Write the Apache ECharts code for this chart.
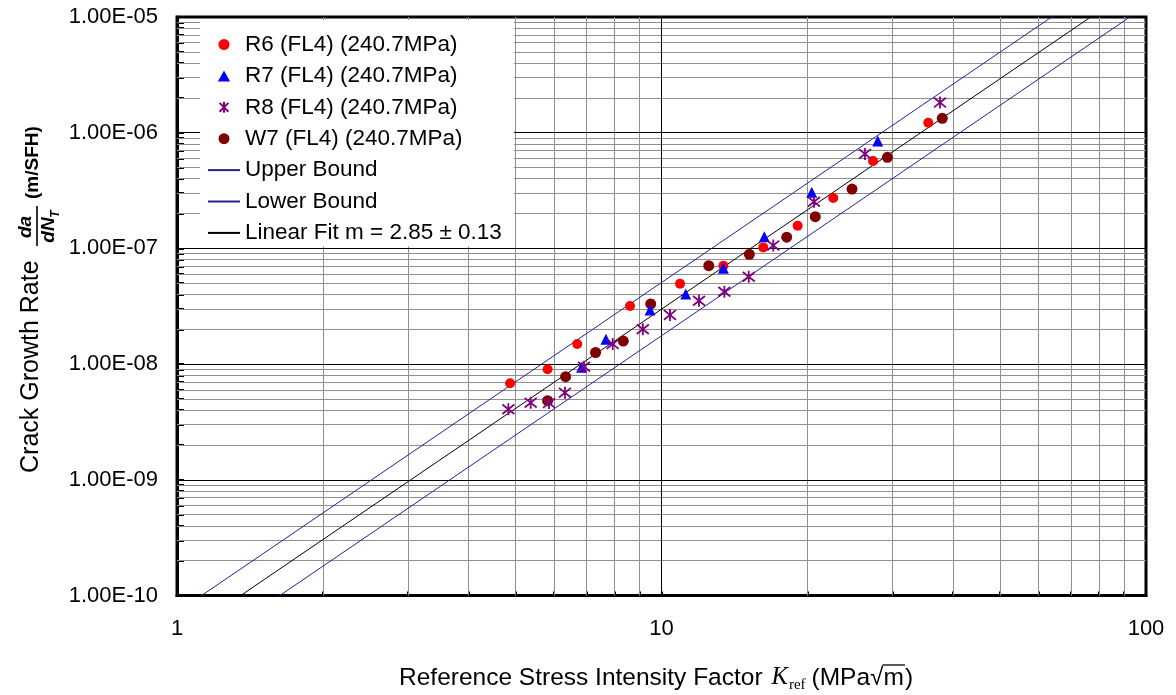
<!DOCTYPE html>
<html>
<head>
<meta charset="utf-8">
<script src="https://cdn.jsdelivr.net/npm/echarts@6/dist/echarts.min.js"></script>
<style>
  html, body { margin: 0; padding: 0; background: #ffffff; }
  #chart { width: 1176px; height: 695px; }
</style>
</head>
<body>
<div id="chart"></div>
<script>
// Reference stress intensity factor K_ref (MPa√m) and crack growth rate da/dN_T (m/SFH)
const r6K    = [4.87, 5.82, 6.70, 8.61, 10.92, 13.42, 16.22, 19.10, 22.62, 27.33, 35.53];
const r6Rate = [6.82e-9, 9.02e-9, 1.49e-8, 3.18e-8, 4.95e-8, 7.09e-8, 1.02e-7, 1.57e-7, 2.73e-7, 5.69e-7, 1.22e-6];

const r7K    = [6.84, 7.68, 9.47, 11.22, 13.42, 16.30, 20.42, 27.95];
const r7Rate = [9.38e-9, 1.64e-8, 2.94e-8, 4.04e-8, 6.73e-8, 1.26e-7, 3.05e-7, 8.48e-7];

const r8K    = [4.83, 5.37, 5.86, 6.32, 6.92, 7.93, 9.15, 10.41, 11.95, 13.48, 15.14, 17.01, 20.64, 26.30, 37.57];
const r8Rate = [4.07e-9, 4.64e-9, 4.60e-9, 5.66e-9, 9.50e-9, 1.49e-8, 2.00e-8, 2.66e-8, 3.53e-8, 4.22e-8, 5.69e-8, 1.06e-7, 2.53e-7, 6.55e-7, 1.82e-6];

const w7K    = [5.82, 6.34, 7.31, 8.34, 9.50, 12.52, 15.18, 18.13, 20.77, 24.73, 29.26, 37.98];
const w7Rate = [4.83e-9, 7.78e-9, 1.26e-8, 1.58e-8, 3.31e-8, 7.09e-8, 8.89e-8, 1.25e-7, 1.88e-7, 3.26e-7, 6.13e-7, 1.33e-6];

const seriesNames = ['R6 (FL4) (240.7MPa)', 'R7 (FL4) (240.7MPa)', 'R8 (FL4) (240.7MPa)', 'W7 (FL4) (240.7MPa)'];

// Power-law fit  da/dN = C * K^m  and its scatter band
const fitSlope = 2.85;
const fitSlopeErr = 0.13;
const fitLogCoef = -10.375;     // log10(C)
const bandLogHalfWidth = 0.23;  // decades above / below the fit
const fitRangeK = [1, 100];

// Axis ticks
const xTickValues = [1, 10, 100];
const yTickValues = [1e-10, 1e-9, 1e-8, 1e-7, 1e-6, 1e-5];
const minorSteps = [2, 3, 4, 5, 6, 7, 8, 9];

const SANS = '"Liberation Sans", Arial, sans-serif';
const SERIF = '"Liberation Serif", "Times New Roman", serif';

const fitName = 'Linear Fit m = ' + fitSlope.toFixed(2) + ' \u00B1 ' + fitSlopeErr.toFixed(2);

function pairs(xs, ys) { return xs.map((x, i) => [x, ys[i]]); }
function powerLine(logOffset) {
  return fitRangeK.map(k => [k, Math.pow(10, fitLogCoef + logOffset) * Math.pow(k, fitSlope)]);
}
function minorValues(decades) {
  const out = [];
  decades.slice(0, -1).forEach(d => minorSteps.forEach(s => out.push(d * s)));
  return out;
}
const xMinor = minorValues(xTickValues);
const yMinor = minorValues(yTickValues);
const xMajorInner = xTickValues.slice(1, -1);
const yMajorInner = yTickValues.slice(1, -1);
const xLo = xTickValues[0], xHi = xTickValues[xTickValues.length - 1];
const yLo = yTickValues[0], yHi = yTickValues[yTickValues.length - 1];

function expLabel(v) {
  const e = Math.round(Math.log10(v));
  return '1.00E' + (e < 0 ? '-' : '+') + String(Math.abs(e)).padStart(2, '0');
}

// text measurement for the composed axis title
const measureCtx = document.createElement('canvas').getContext('2d');
function textWidth(font, s) { measureCtx.font = font; return measureCtx.measureText(s).width; }

const GRID = { left: 177, right: 30, top: 17, bottom: 99.5 };

// grid lines: vertical at each K tick, horizontal at each rate tick
function vLine(v, color) {
  return [{ coord: [v, yLo], lineStyle: { color: color, width: 1 } }, { coord: [v, yHi] }];
}
function hLine(v, color) {
  return [{ coord: [xLo, v], lineStyle: { color: color, width: 1 } }, { coord: [xHi, v] }];
}
const MINOR_GRID = '#8f8f8f';
const gridLineData = []
  .concat(xMinor.map(v => vLine(v, MINOR_GRID)))
  .concat(yMinor.map(v => hLine(v, MINOR_GRID)))
  .concat(xMajorInner.map(v => vLine(v, '#000000')))
  .concat(yMajorInner.map(v => hLine(v, '#000000')));

const asteriskPath = 'path://M1,1L9,9M9,1L1,9M5,0L5,10';
const trianglePath = 'path://M5,0L10,9L0,9Z';

// ----- x-axis title: Reference Stress Intensity Factor  K_ref (MPa√m)
const xTitleY = 678;
const fMain = '24.5px ' + SANS;
const fK = 'italic 24.5px ' + SERIF;
const fSub = '15px ' + SERIF;
let cx = 399;
const xTitleEls = [];
function addText(str, font, x, y) {
  xTitleEls.push({ type: 'text', x: x, y: y, silent: true,
    style: { text: str, font: font, fill: '#000', align: 'left', verticalAlign: 'middle',
             textAlign: 'left', textVerticalAlign: 'middle' } });
  return textWidth(font, str);
}
cx += addText('Reference Stress Intensity Factor', fMain, cx, xTitleY);
cx += 9;
cx += addText('K', fK, cx, xTitleY);
cx += 1;
cx += addText('ref', fSub, cx, xTitleY + 7);
cx += 6;
cx += addText('(MPa', fMain, cx, xTitleY);
cx += addText('\u221A', fMain, cx, xTitleY);
const mStart = cx - 1;
cx += addText('m', fMain, cx, xTitleY);
const mEnd = cx + 1;
cx += addText(')', fMain, cx + 1, xTitleY);
xTitleEls.push({ type: 'line', silent: true,
  shape: { x1: mStart, y1: xTitleY - 13, x2: mEnd, y2: xTitleY - 13 },
  style: { stroke: '#000', lineWidth: 1.3 } });

// ----- y-axis title (rotated): Crack Growth Rate  da/dN_T (m/SFH)
function rt(str, font, x, y, align) {
  return { type: 'text', x: x, y: y, silent: true,
    style: { text: str, font: font, fill: '#000', align: align, verticalAlign: 'middle',
             textAlign: align, textVerticalAlign: 'middle' } };
}
const yTitle = {
  type: 'group', x: 0, y: 473, rotation: Math.PI / 2, silent: true,
  children: [
    rt('Crack Growth Rate', '25px ' + SANS, 0, 31, 'left'),
    rt('da', 'bold italic 19px ' + SANS, 246, 26, 'center'),
    { type: 'line', silent: true, shape: { x1: 227, y1: 37, x2: 267, y2: 37 },
      style: { stroke: '#000', lineWidth: 1.6 } },
    rt('dN', 'bold italic 19px ' + SANS, 243, 49, 'center'),
    rt('T', 'bold italic 12px ' + SANS, 259, 56, 'center'),
    rt('(m/SFH)', 'bold 19px ' + SANS, 274, 33, 'left')
  ]
};

const legendData = [
  { name: seriesNames[0], icon: 'circle' },
  { name: seriesNames[1], icon: trianglePath },
  { name: seriesNames[2], icon: asteriskPath },
  { name: seriesNames[3], icon: 'circle' },
  { name: 'Upper Bound', itemStyle: { opacity: 0 } },
  { name: 'Lower Bound', itemStyle: { opacity: 0 } },
  { name: fitName, itemStyle: { opacity: 0 } }
];

const chart = echarts.init(document.getElementById('chart'), null, { renderer: 'canvas' });
chart.setOption({
  animation: false,
  backgroundColor: '#ffffff',
  grid: Object.assign({ show: true, borderColor: '#000', borderWidth: 3, backgroundColor: 'transparent' }, GRID),
  xAxis: {
    type: 'log', logBase: 10, min: xLo, max: xHi,
    axisLine: { show: true, lineStyle: { color: '#000', width: 3 } },
    axisTick: { show: true, inside: true, length: 4, customValues: xTickValues.concat(xMinor),
                lineStyle: { color: '#000', width: 2 } },
    axisLabel: { show: true, customValues: xTickValues, formatter: v => String(Math.round(v)),
                 fontFamily: SANS, fontSize: 22, color: '#000', margin: 22 },
    splitLine: { show: false },
    minorTick: { show: false }, minorSplitLine: { show: false }
  },
  yAxis: {
    type: 'log', logBase: 10, min: yLo, max: yHi,
    axisLine: { show: true, lineStyle: { color: '#000', width: 3 } },
    axisTick: { show: true, inside: true, length: 7, customValues: yTickValues.concat(yMinor),
                lineStyle: { color: '#000', width: 2 } },
    axisLabel: { show: true, customValues: yTickValues, formatter: expLabel,
                 fontFamily: SANS, fontSize: 22, color: '#000', margin: 19 },
    splitLine: { show: false },
    minorTick: { show: false }, minorSplitLine: { show: false }
  },
  legend: {
    orient: 'vertical', left: 200, top: 20, z: 10,
    padding: [13, 12, 2, 7],
    backgroundColor: '#ffffff',
    itemWidth: 32, itemHeight: 11, itemGap: 8.4,
    textStyle: { fontFamily: SANS, fontSize: 22.5, color: '#000', lineHeight: 22 },
    data: legendData
  },
  graphic: [yTitle].concat(xTitleEls),
  series: [
    {
      name: 'grid', type: 'line', data: [], silent: true, z: 1,
      markLine: { silent: true, z: 1, symbol: ['none', 'none'], animation: false,
                  label: { show: false }, emphasis: { disabled: true },
                  lineStyle: { type: 'solid' }, data: gridLineData }
    },
    { name: 'Upper Bound', type: 'line', data: powerLine(bandLogHalfWidth), symbol: 'none', clip: true, z: 2,
      lineStyle: { color: '#22229a', width: 1 }, itemStyle: { color: '#22229a' } },
    { name: 'Lower Bound', type: 'line', data: powerLine(-bandLogHalfWidth), symbol: 'none', clip: true, z: 2,
      lineStyle: { color: '#22229a', width: 1 }, itemStyle: { color: '#22229a' } },
    { name: fitName, type: 'line',
      data: powerLine(0), symbol: 'none', clip: true, z: 2,
      lineStyle: { color: '#000', width: 1 }, itemStyle: { color: '#000' } },
    { name: seriesNames[0], type: 'scatter', data: pairs(r6K, r6Rate), symbol: 'circle', symbolSize: 10, z: 3,
      itemStyle: { color: '#ff0000', opacity: 1 } },
    { name: seriesNames[3], type: 'scatter', data: pairs(w7K, w7Rate), symbol: 'circle', symbolSize: 11, z: 3,
      itemStyle: { color: '#800000', opacity: 1 } },
    { name: seriesNames[1], type: 'scatter', data: pairs(r7K, r7Rate), symbol: trianglePath, symbolSize: 11, z: 3,
      itemStyle: { color: '#0000ff', opacity: 1 } },
    { name: seriesNames[2], type: 'scatter', data: pairs(r8K, r8Rate), symbol: asteriskPath, symbolSize: 12, z: 3,
      itemStyle: { color: '#800080', borderColor: '#800080', borderWidth: 1.8, opacity: 1 } }
  ]
});
</script>
</body>
</html>
